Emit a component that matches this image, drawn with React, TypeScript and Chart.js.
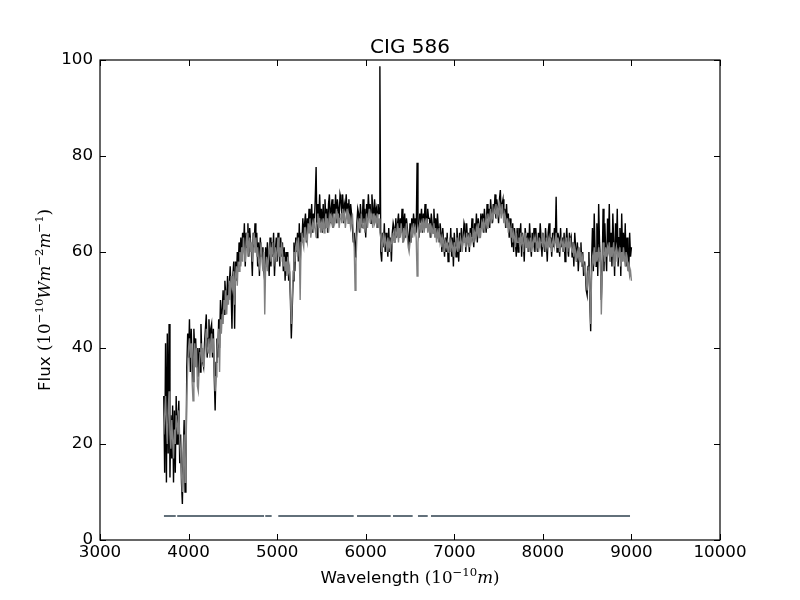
import React, { useEffect, useRef } from 'react';
import { Chart, registerables } from 'chart.js';

Chart.register(...registerables);

const TITLE = 'CIG 586';
const WAVE_START = 3720;
const WAVE_STEP = 10;

// observed spectrum (black), one row per 200 Å
const OBSERVED = [
  30, 14, 41, 12, 43, 18, 45, 13, 26, 17, 28, 12, 27, 14, 30, 20, 25, 29, 16, 22,
  12, 7.5, 18, 25, 10, 14, 36, 43, 38, 46, 35, 44, 37, 33, 44, 39, 42, 36, 40, 34,
  40, 35, 45, 38, 37, 36, 41, 44, 47, 38, 42, 46, 40, 44, 45, 38, 44, 34, 27, 37,
  42, 38, 46, 40, 50, 45, 48, 52, 47, 54, 51, 49, 55, 50, 53, 57, 52, 44, 55, 58,
  44, 58, 54, 60, 56, 62, 58, 63, 59, 64, 61, 66, 57, 64, 61, 66, 59, 65, 62, 60,
  55, 64, 61, 66, 60, 64, 57, 62, 55, 63, 59, 61, 58, 56, 54, 61, 57, 62, 59, 55,
  63, 57, 62, 59, 64, 55, 60, 63, 58, 64, 61, 57, 63, 59, 62, 56, 61, 54, 60, 57,
  60, 54, 56, 50, 42, 48, 54, 62, 56, 63, 60, 64, 58, 66, 57, 64, 62, 67, 63, 66,
  68, 62, 67, 64, 69, 66, 65, 70, 64, 68, 66, 71, 77.7, 63, 70, 67, 72, 66, 69, 64,
  70, 65, 71, 67, 69, 64, 70, 72, 66, 69, 71, 65, 70, 68, 72, 66, 71, 69, 67, 72,
  71, 68, 72, 66, 70, 69, 72, 67, 70, 71, 66, 70, 68, 65, 62, 64, 59, 62, 66, 69,
  68, 64, 70, 67, 65, 71, 66, 69, 63, 70, 67, 72, 68, 70, 66, 72, 69, 67, 71, 68,
  69, 65, 70, 68, 98.7, 60, 58, 64, 61, 66, 60, 64, 62, 59, 65, 60, 63, 58, 64, 66,
  65, 62, 67, 63, 66, 68, 63, 67, 64, 69, 62, 66, 68, 63, 67, 65, 63, 61, 66, 62,
  67, 64, 68, 65, 67, 64, 78.6, 66, 63, 68, 66, 69, 64, 68, 66, 70, 67, 65, 69, 67,
  67, 63, 68, 66, 64, 69, 65, 67, 63, 68, 65, 62, 66, 64, 60, 65, 62, 59, 63, 60,
  64, 58, 62, 60, 65, 59, 63, 57, 64, 61, 59, 65, 62, 58, 64, 60, 65, 61, 63, 66,
  65, 60, 66, 62, 64, 60, 65, 63, 67, 63, 61, 66, 64, 68, 62, 67, 65, 63, 68, 65,
  68, 64, 69, 66, 64, 70, 67, 69, 65, 71, 68, 66, 70, 68, 72, 67, 71, 69, 66, 71,
  72.9, 68, 70, 71, 67, 69, 65, 70, 66, 68, 63, 67, 64, 61, 66, 60, 65, 62, 59, 65,
  60, 65, 62, 66, 59, 64, 62, 58, 65, 63, 61, 64, 60, 66, 62, 59, 64, 61, 65, 60,
  65, 62, 60, 64, 61, 66, 63, 59, 64, 62, 60, 65, 62, 58, 64, 66, 61, 63, 59, 64,
  61, 65, 62, 71.5, 60, 64, 63, 59, 65, 61, 63, 60, 64, 58, 62, 65, 61, 59, 64, 62,
  63, 59, 62, 57, 64, 61, 58, 62, 56, 60, 59, 62, 57, 60, 55, 58, 56, 52, 51, 57,
  60, 50, 43.5, 58, 65, 56, 68, 60, 57, 66, 55, 70, 62, 58, 50, 57, 69, 56, 66, 60,
  56, 67, 61, 70, 58, 64, 57, 68, 62, 55, 66, 60, 69, 57, 63, 65, 55, 68, 60, 64,
  58, 66, 57, 63, 60, 56, 64, 59, 61,
];

// model spectrum (gray), one row per 200 Å
const MODEL = [
  22, 26, 30, 24, 20, 27, 31, 22, 19, 25, 21, 17, 23, 20, 26, 24, 22, 27, 21, 18,
  14, 10, 15, 22, 12, 16, 30, 36, 40, 42, 38, 41, 33, 29, 38, 41, 36, 40, 32, 31,
  36, 39, 41, 37, 40, 36, 38, 41, 44, 40, 39, 42, 38, 41, 43, 39, 42, 36, 31, 34,
  39, 42, 44, 35, 46, 43, 47, 45, 50, 48, 52, 47, 51, 49, 54, 50, 55, 53, 52, 56,
  49, 55, 57, 53, 58, 56, 60, 57, 61, 58, 63, 60, 58, 62, 64, 59, 61, 63, 60, 62,
  58, 62, 64, 60, 63, 59, 61, 58, 57, 60, 62, 58, 56, 60, 47, 57, 59, 56, 58, 60,
  61, 58, 60, 62, 57, 59, 61, 58, 60, 63, 59, 61, 58, 62, 60, 57, 59, 56, 58, 55,
  59, 56, 57, 52, 45, 50, 56, 60, 58, 61, 62, 59, 63, 60, 50, 62, 64, 62, 61, 65,
  65, 63, 62, 66, 64, 67, 63, 65, 66, 64, 67, 65, 63, 66, 68, 65, 67, 64, 66, 65,
  67, 64, 66, 68, 65, 67, 64, 66, 68, 66, 67, 65, 68, 66, 67, 69, 66, 68, 65, 67,
  68, 66, 69, 67, 68, 65, 67, 69, 66, 68, 67, 65, 66, 68, 64, 61, 52, 58, 63, 66,
  65, 67, 64, 68, 66, 65, 67, 64, 66, 68, 65, 67, 69, 66, 68, 67, 65, 68, 66, 67,
  66, 68, 65, 67, 64, 63, 60, 62, 64, 61, 63, 62, 60, 63, 61, 62, 60, 63, 62, 64,
  62, 65, 63, 64, 66, 62, 65, 63, 66, 64, 62, 65, 63, 64, 66, 63, 61, 60, 62, 64,
  65, 63, 66, 64, 65, 63, 55, 62, 65, 66, 64, 66, 65, 67, 64, 66, 65, 67, 64, 66,
  64, 66, 63, 65, 64, 66, 63, 65, 62, 64, 63, 65, 62, 63, 61, 63, 62, 60, 62, 61,
  62, 60, 61, 63, 60, 62, 61, 59, 62, 60, 61, 63, 60, 62, 61, 63, 62, 60, 63, 62,
  63, 61, 64, 62, 63, 61, 64, 62, 63, 65, 62, 64, 63, 65, 64, 66, 63, 65, 64, 66,
  65, 67, 64, 66, 67, 65, 68, 66, 67, 69, 66, 68, 67, 69, 68, 70, 67, 69, 68, 70,
  69, 67, 70, 68, 66, 68, 67, 65, 67, 64, 66, 65, 63, 65, 62, 64, 63, 61, 64, 62,
  62, 63, 61, 64, 62, 63, 60, 62, 64, 61, 63, 60, 62, 61, 63, 60, 62, 61, 63, 62,
  63, 61, 62, 60, 63, 61, 62, 64, 61, 63, 62, 60, 63, 61, 62, 63, 61, 62, 60, 62,
  63, 61, 62, 64, 61, 63, 62, 60, 62, 63, 61, 62, 60, 62, 61, 63, 60, 62, 61, 63,
  61, 60, 62, 59, 61, 60, 58, 60, 59, 61, 58, 60, 57, 59, 58, 56, 57, 54, 52, 56,
  57, 52, 45, 55, 59, 58, 61, 57, 60, 58, 59, 61, 58, 60, 47, 55, 62, 60, 58, 61,
  59, 61, 60, 62, 58, 61, 59, 60, 62, 57, 60, 61, 58, 60, 59, 61, 57, 60, 58, 61,
  59, 57, 60, 58, 56, 57, 55, 56, 54,
];

// fitted-region mask segments
const MASK_START = [3722, 3872, 4866, 5013, 5902, 6308, 6590, 6737];
const MASK_END = [3855, 4852, 4938, 5864, 6282, 6530, 6700, 8984];
const MASK_LEVEL = 5;

const X_MIN = 3000;
const X_MAX = 10000;
const X_STEP = 1000;
const Y_MIN = 0;
const Y_MAX = 100;
const Y_STEP = 20;

type Seg = { t: string; f: string; sup?: boolean };

const SANS = '"DejaVu Sans"';
const SERIF = '"DejaVu Serif"';
const BASE = 16.7;
const SUP = 11.7;

const X_LABEL: Seg[] = [
  { t: 'Wavelength ', f: `${BASE}px ${SANS}` },
  { t: '(10', f: `${BASE}px ${SERIF}` },
  { t: '\u221210', f: `${SUP}px ${SERIF}`, sup: true },
  { t: 'm', f: `italic ${BASE}px ${SERIF}` },
  { t: ')', f: `${BASE}px ${SERIF}` },
];

const Y_LABEL: Seg[] = [
  { t: 'Flux ', f: `${BASE}px ${SANS}` },
  { t: '(10', f: `${BASE}px ${SERIF}` },
  { t: '\u221210', f: `${SUP}px ${SERIF}`, sup: true },
  { t: 'Wm', f: `italic ${BASE}px ${SERIF}` },
  { t: '\u22122', f: `${SUP}px ${SERIF}`, sup: true },
  { t: 'm', f: `italic ${BASE}px ${SERIF}` },
  { t: '\u22121', f: `${SUP}px ${SERIF}`, sup: true },
  { t: ')', f: `${BASE}px ${SERIF}` },
];

function drawRich(ctx: CanvasRenderingContext2D, segs: Seg[], cx: number, baseline: number) {
  let total = 0;
  const widths = segs.map((s) => {
    ctx.font = s.f;
    const w = ctx.measureText(s.t).width;
    total += w;
    return w;
  });
  let x = cx - total / 2;
  ctx.textAlign = 'left';
  ctx.textBaseline = 'alphabetic';
  segs.forEach((s, i) => {
    ctx.font = s.f;
    ctx.fillText(s.t, x, s.sup ? baseline - 7 : baseline);
    x += widths[i];
  });
}

const decorPlugin = {
  id: 'decor',
  afterDraw(chart: any) {
    const ctx: CanvasRenderingContext2D = chart.ctx;
    const a = chart.chartArea;
    const xs = chart.scales.x;
    const ys = chart.scales.y;
    ctx.save();
    ctx.strokeStyle = '#000';
    ctx.lineWidth = 1.2;
    ctx.strokeRect(a.left, a.top, a.right - a.left, a.bottom - a.top);
    ctx.lineWidth = 1;
    ctx.beginPath();
    xs.ticks.forEach((t: any) => {
      const p = Math.round(xs.getPixelForValue(t.value)) + 0.5;
      ctx.moveTo(p, a.bottom);
      ctx.lineTo(p, a.bottom - 6);
      ctx.moveTo(p, a.top);
      ctx.lineTo(p, a.top + 6);
    });
    ys.ticks.forEach((t: any) => {
      const p = Math.round(ys.getPixelForValue(t.value)) + 0.5;
      ctx.moveTo(a.left, p);
      ctx.lineTo(a.left + 6, p);
      ctx.moveTo(a.right, p);
      ctx.lineTo(a.right - 6, p);
    });
    ctx.stroke();

    ctx.fillStyle = '#000';
    ctx.font = `20px ${SANS}`;
    ctx.textAlign = 'center';
    ctx.textBaseline = 'alphabetic';
    ctx.fillText(TITLE, (a.left + a.right) / 2, 53);

    drawRich(ctx, X_LABEL, (a.left + a.right) / 2, 583);

    ctx.translate(50, (a.top + a.bottom) / 2);
    ctx.rotate(-Math.PI / 2);
    drawRich(ctx, Y_LABEL, 0, 0);
    ctx.restore();
  },
};

export default function App() {
  const ref = useRef<HTMLCanvasElement>(null);

  useEffect(() => {
    if (!ref.current) return;
    const waves = OBSERVED.map((_, i) => WAVE_START + i * WAVE_STEP);
    const obs = OBSERVED.map((v, i) => ({ x: waves[i], y: v }));
    const mod = MODEL.map((v, i) => ({ x: waves[i], y: v }));
    const mask: { x: number; y: number | null }[] = [];
    MASK_START.forEach((s, i) => {
      mask.push({ x: s, y: MASK_LEVEL });
      mask.push({ x: MASK_END[i], y: MASK_LEVEL });
      if (i < MASK_START.length - 1) mask.push({ x: (MASK_END[i] + MASK_START[i + 1]) / 2, y: null });
    });

    const chart = new Chart(ref.current, {
      type: 'line',
      data: {
        datasets: [
          { data: mod, borderColor: '#808080', borderWidth: 1.4, pointRadius: 0, tension: 0, order: 1 },
          { data: obs, borderColor: '#000000', borderWidth: 1.4, pointRadius: 0, tension: 0, order: 2 },
          { data: mask as any, borderColor: '#62707a', borderWidth: 2, pointRadius: 0, tension: 0, spanGaps: false, order: 0 },
        ],
      },
      options: {
        responsive: false,
        animation: false,
        devicePixelRatio: 1,
        layout: { padding: { left: 0, top: 60, right: 80, bottom: 0 } },
        plugins: { legend: { display: false }, tooltip: { enabled: false }, title: { display: false } },
        scales: {
          x: {
            type: 'linear',
            min: X_MIN,
            max: X_MAX,
            grid: { display: false, drawTicks: false },
            border: { display: false },
            ticks: {
              stepSize: X_STEP,
              color: '#000',
              padding: 3,
              font: { family: 'DejaVu Sans', size: BASE },
              callback: (v: any) => String(v),
            },
            afterFit: (s: any) => { s.height = 60; },
          },
          y: {
            type: 'linear',
            min: Y_MIN,
            max: Y_MAX,
            grid: { display: false, drawTicks: false },
            border: { display: false },
            ticks: {
              stepSize: Y_STEP,
              color: '#000',
              padding: 7,
              font: { family: 'DejaVu Sans', size: BASE },
              callback: (v: any) => String(v),
            },
            afterFit: (s: any) => { s.width = 100; },
          },
        },
      },
      plugins: [decorPlugin],
    });
    return () => chart.destroy();
  }, []);

  return (
    <div style={{ position: 'fixed', left: 0, top: 0, width: 800, height: 600, background: '#fff' }}>
      <canvas ref={ref} width={800} height={600} style={{ width: 800, height: 600 }} />
    </div>
  );
}
